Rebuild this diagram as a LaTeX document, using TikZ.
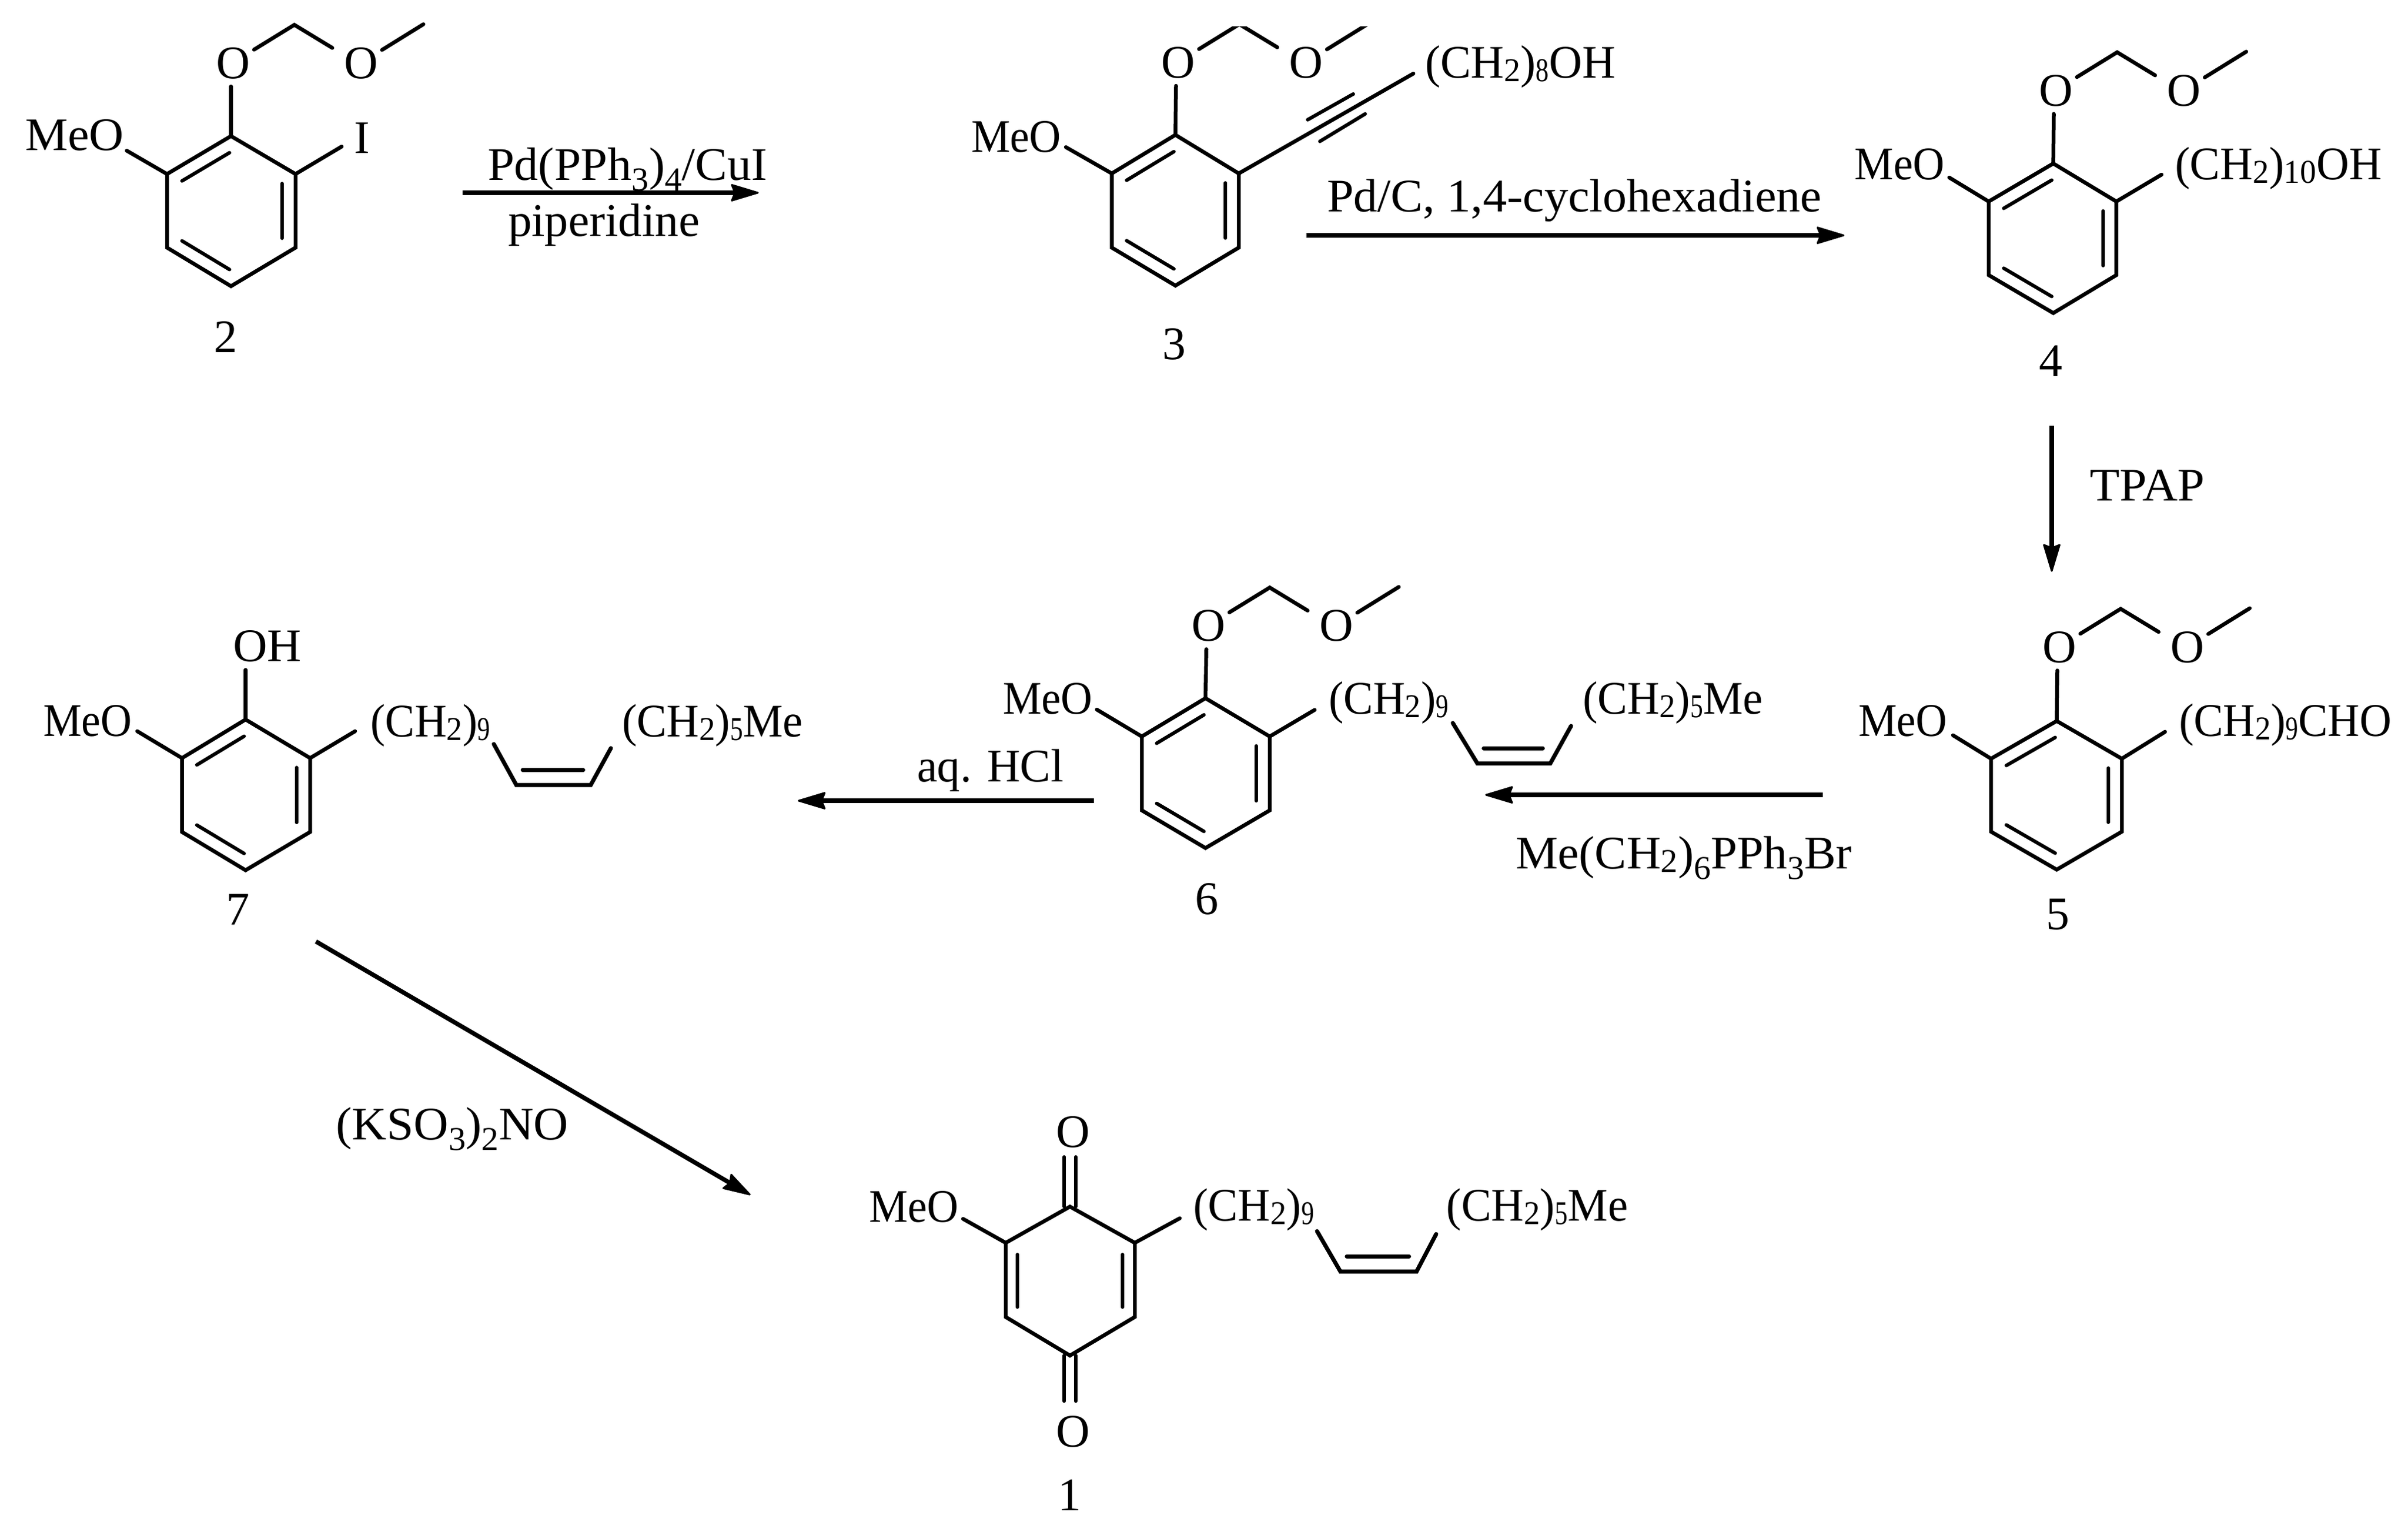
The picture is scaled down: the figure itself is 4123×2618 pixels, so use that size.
\documentclass[tikz,border=0pt]{standalone}
\usepackage{fontspec}
\usepackage{graphicx}
\setmainfont{Liberation Serif}
\usetikzlibrary{arrows.meta,calc}
\tikzset{
  x=1pt,y=-1pt,
  bond/.style={draw=black,line width=6.5pt,line cap=round,line join=miter},
  inner/.style={draw=black,line width=6pt,line cap=round,shorten <=3pt,shorten >=3pt},
  rxn/.style={draw=black,line width=7.5pt,-{Stealth[length=52pt,width=31pt,inset=6pt,line width=3pt,round]}},
  txt/.style={inner sep=0pt,outer sep=0pt,anchor=base west,text=black,font=\fontsize{80}{96}\selectfont},
  ctxt/.style={txt,anchor=base}
}
% text with a given left edge, baseline and width
\newcommand\tlab[5]{\node[txt] (#1) at (#2,#3) {\resizebox{#4pt}{\height}{#5}};}
% text centred on x, with a given baseline
\newcommand\clab[4]{\node[ctxt] (#1) at (#2,#3) {#4};}
\newcommand\sbx[2][6]{\raisebox{-#1pt}{\fontsize{57}{60}\selectfont #2}}
% narrow subscript digit, as in the alkyl chain labels
\newcommand\nar[1]{\sbx{\scalebox{0.8}[1]{#1}}}
% ring: prefix, xLeft, xTop, xRight, yTop, yUpper, yLower, yBottom
\newcommand\benz[8]{%
  \coordinate (#1t) at (#3,#5);
  \coordinate (#1ur) at (#4,#6);
  \coordinate (#1lr) at (#4,#7);
  \coordinate (#1b) at (#3,#8);
  \coordinate (#1ll) at (#2,#7);
  \coordinate (#1ul) at (#2,#6);
  \coordinate (#1c) at ($(#1t)!0.5!(#1b)$);
  \draw[bond] (#1t)--(#1ur)--(#1lr)--(#1b)--(#1ll)--(#1ul)--cycle;
}
\newcommand\arom[1]{%
  \draw[inner] ($(#1c)!0.79!(#1ul)$)--($(#1c)!0.79!(#1t)$);
  \draw[inner] ($(#1c)!0.79!(#1ur)$)--($(#1c)!0.79!(#1lr)$);
  \draw[inner] ($(#1c)!0.79!(#1ll)$)--($(#1c)!0.79!(#1b)$);
}
% methoxymethyl ether: prefix, centre of the first O
\newcommand\momg[3]{%
  \coordinate (#1oc) at (#2,#3);
  \clab{#1oa}{#2}{#3+27}{O}
  \clab{#1ob}{#2+219.5}{#3+27}{O}
  \coordinate (#1e0) at ($(#1oc)+(-3.5,41)$);
  \coordinate (#1e1) at ($(#1oc)+(36,-22)$);
  \coordinate (#1e2) at ($(#1oc)+(105,-64.5)$);
  \coordinate (#1e3) at ($(#1oc)+(170,-25)$);
  \coordinate (#1e4) at ($(#1oc)+(255,-21.5)$);
  \coordinate (#1e5) at ($(#1oc)+(326,-65.5)$);
  \draw[bond] (#1e0)--(#1t);
  \draw[bond] (#1e1)--(#1e2)--(#1e3);
  \draw[bond] (#1e4)--(#1e5);
}
% cis alkene: prefix, x1,y1, x2,y2, x3, x4,y4
\newcommand\alk[8]{%
  \coordinate (#1a) at (#2,#3);
  \coordinate (#1b) at (#4,#5);
  \coordinate (#1c) at (#6,#5);
  \coordinate (#1d) at (#7,#8);
  \coordinate (#1e) at (#4+11,#5-26);
  \coordinate (#1f) at (#6-13,#5-26);
  \draw[bond,line width=7pt] (#1a)--(#1b)--(#1c)--(#1d);
  \draw[bond,line width=7pt] (#1e)--(#1f);
}
\begin{document}
\begin{tikzpicture}
\useasboundingbox (0,0) rectangle (4123,2618);
\fill[white] (0,0) rectangle (4123,2618);

% ---- 2
\benz{A}{286}{395.5}{506}{233}{298}{424}{490}
\arom{A}
\momg{A}{399}{107}
\tlab{Ame}{43}{257}{169}{MeO}
\coordinate (Am) at (217,258);
\draw[bond] (Am)--(Aul);
\clab{Ai}{620}{262}{I}
\coordinate (Ax) at (585,251);
\draw[bond] (Aur)--(Ax);
\clab{An}{386}{603}{2}
\coordinate (R1a) at (792,330);
\coordinate (R1b) at (1299,330);
\draw[rxn] (R1a)--(R1b);
\tlab{R1t}{835}{308}{479}{Pd(PPh\sbx[18]{3})\sbx[18]{4}/CuI}
\tlab{R1u}{870}{404}{328}{piperidine}

% ---- 3
\benz{B}{1903.6}{2012.5}{2121}{231}{297}{424}{489}
\arom{B}
\begin{scope}
\clip (0,45) rectangle (4123,2618);
\momg{B}{2017}{106}
\end{scope}
\tlab{Bme}{1663}{260}{154}{MeO}
\coordinate (Bm) at (1825,252);
\draw[bond] (Bm)--(Bul);
\tlab{Bch}{2440}{133}{326}{(CH\sbx{2})\nar{8}OH}
\coordinate (Bx) at (2420,126);
\coordinate (Bp) at (2239,205);
\coordinate (Bq) at (2317,161);
\coordinate (Br) at (2260,242);
\coordinate (Bs) at (2337.5,195);
\draw[bond] (Bur)--(Bx);
\draw[bond,line width=6pt] (Bp)--(Bq);
\draw[bond,line width=6pt] (Br)--(Bs);
\clab{Bn}{2010}{615}{3}
\coordinate (R2a) at (2237,403);
\coordinate (R2b) at (3158,403);
\draw[rxn] (R2a)--(R2b);
\tlab{R2t}{2272}{362.5}{847}{Pd/C, 1,4-cyclohexadiene}

% ---- 4
\benz{C}{3405}{3515.6}{3623.6}{280}{345}{471}{536}
\arom{C}
\momg{C}{3520}{154}
\tlab{Cme}{3175.5}{307}{154}{MeO}
\coordinate (Cm) at (3337.5,304);
\draw[bond] (Cm)--(Cul);
\tlab{Cch}{3724}{307}{354}{(CH\sbx{2})\sbx{10}OH}
\coordinate (Cx) at (3701,299);
\draw[bond] (Cur)--(Cx);
\clab{Cn}{3511}{644}{4}
\coordinate (R3a) at (3513,728.5);
\coordinate (R3b) at (3513,979);
\draw[rxn] (R3a)--(R3b);
\tlab{R3t}{3578}{857.5}{197}{TPAP}

% ---- 5
\benz{D}{3409}{3521.5}{3633}{1234.5}{1299}{1424}{1489}
\arom{D}
\momg{D}{3526}{1107}
\tlab{Dme}{3182}{1260.5}{152}{MeO}
\coordinate (Dm) at (3344,1259);
\draw[bond] (Dm)--(Dul);
\tlab{Dch}{3731}{1260}{364}{(CH\sbx{2})\nar{9}CHO}
\coordinate (Dx) at (3707,1253);
\draw[bond] (Dur)--(Dx);
\clab{Dn}{3523.5}{1591}{5}
\coordinate (R4a) at (3121,1361);
\coordinate (R4b) at (2543,1361);
\draw[rxn] (R4a)--(R4b);
\tlab{R4t}{2595}{1487}{576}{Me(CH\sbx{2})\sbx[18]{6}PPh\sbx[18]{3}Br}

% ---- 6
\benz{E}{1955}{2064}{2174}{1195.5}{1261}{1387.5}{1452}
\arom{E}
\momg{E}{2069}{1070.5}
\tlab{Eme}{1717}{1222}{153.5}{MeO}
\coordinate (Em) at (1878,1215);
\draw[bond] (Em)--(Eul);
\tlab{Ech}{2275}{1222}{205}{(CH\sbx{2})\nar{9}}
\coordinate (Ex) at (2251,1215.5);
\draw[bond] (Eur)--(Ex);
\alk{Ea}{2487.5}{1238}{2529.5}{1307}{2654.5}{2690}{1243}
\tlab{Ecm}{2710}{1222}{308}{(CH\sbx{2})\nar{5}Me}
\clab{En}{2066}{1565}{6}
\coordinate (R5a) at (1873,1371);
\coordinate (R5b) at (1366,1371);
\draw[rxn] (R5a)--(R5b);
\tlab{R5t}{1570}{1338}{251}{aq. HCl}

% ---- 7
\benz{F}{311.6}{420.5}{531}{1232}{1298}{1424.5}{1490}
\arom{F}
\tlab{Foh}{399}{1132}{117}{OH}
\coordinate (Fo) at (420.5,1147);
\draw[bond] (Fo)--(Ft);
\tlab{Fme}{74}{1260}{152}{MeO}
\coordinate (Fm) at (235,1252);
\draw[bond] (Fm)--(Ful);
\tlab{Fch}{634}{1261}{205}{(CH\sbx{2})\nar{9}}
\coordinate (Fx) at (608,1252);
\draw[bond] (Fur)--(Fx);
\alk{Fa}{845.5}{1274}{884}{1344}{1011.5}{1046}{1281}
\tlab{Fcm}{1065}{1261}{310}{(CH\sbx{2})\nar{5}Me}
\clab{Fn}{407}{1583}{7}
\coordinate (R6a) at (541,1612);
\coordinate (R6b) at (1285,2046);
\draw[rxn] (R6a)--(R6b);
\tlab{R6t}{575.5}{1951}{398}{(KSO\sbx[18]{3})\sbx[18]{2}NO}

% ---- 1
\benz{G}{1722}{1832}{1943}{2066}{2128}{2255}{2321}
\coordinate (Gi1) at (1742,2148);
\coordinate (Gi2) at (1742,2238);
\coordinate (Gi3) at (1922,2148);
\coordinate (Gi4) at (1922,2238);
\draw[bond,line width=6pt] (Gi1)--(Gi2);
\draw[bond,line width=6pt] (Gi3)--(Gi4);
\clab{Got}{1837}{1964}{O}
\clab{Gob}{1837}{2477}{O}
\coordinate (Gu1) at (1822,1981);
\coordinate (Gu2) at (1822,2066);
\coordinate (Gu3) at (1842,1981);
\coordinate (Gu4) at (1842,2066);
\coordinate (Gv1) at (1822,2321);
\coordinate (Gv2) at (1822,2399);
\coordinate (Gv3) at (1842,2321);
\coordinate (Gv4) at (1842,2399);
\draw[bond,line width=6pt] (Gu1)--(Gu2);
\draw[bond,line width=6pt] (Gu3)--(Gu4);
\draw[bond,line width=6pt] (Gv1)--(Gv2);
\draw[bond,line width=6pt] (Gv3)--(Gv4);
\tlab{Gme}{1488}{2092}{153}{MeO}
\coordinate (Gm) at (1649,2087);
\draw[bond] (Gm)--(Gul);
\tlab{Gch}{2043}{2090}{207}{(CH\sbx{2})\nar{9}}
\coordinate (Gx) at (2020,2086);
\draw[bond] (Gur)--(Gx);
\alk{Ga}{2255}{2108}{2295}{2177}{2425.5}{2459}{2113}
\tlab{Gcm}{2476.5}{2090}{311}{(CH\sbx{2})\nar{5}Me}
\clab{Gn}{1831}{2586}{1}
\end{tikzpicture}
\end{document}
